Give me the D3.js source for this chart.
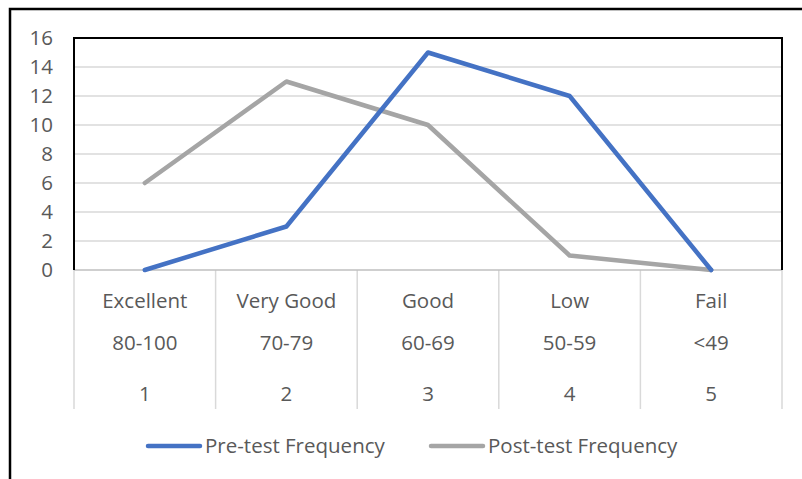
<!DOCTYPE html>
<html>
<head>
<meta charset="utf-8">
<script src="https://cdn.jsdelivr.net/npm/d3@7"></script>
<style>
  body { margin: 0; background: #fff; }
  text { font-family: "Open Sans", "Noto Sans", sans-serif; fill: #595959; }
</style>
</head>
<body>
<svg width="802" height="479"></svg>
<script>
const labels1 = ["Excellent", "Very Good", "Good", "Low", "Fail"];
const labels2 = ["80-100", "70-79", "60-69", "50-59", "<49"];
const labels3 = ["1", "2", "3", "4", "5"];
const preTest = [0, 3, 15, 12, 0];
const postTest = [6, 13, 10, 1, 0];
const yTicks = [0, 2, 4, 6, 8, 10, 12, 14, 16];

const svg = d3.select("svg");

const plot = { left: 74, right: 782, top: 38, bottom: 270 };
const fs = 20.5;

// outer frame
svg.append("rect")
  .attr("x", 10).attr("y", 9)
  .attr("width", 810).attr("height", 490)
  .attr("fill", "none").attr("stroke", "#000").attr("stroke-width", 2.5);

const x = d3.scaleBand()
  .domain(labels3)
  .range([plot.left, plot.right]);

const y = d3.scaleLinear()
  .domain([0, 16])
  .range([plot.bottom, plot.top]);

// gridlines
svg.append("g")
  .selectAll("line")
  .data(yTicks.filter(d => d > 0 && d < 16))
  .enter().append("line")
  .attr("x1", plot.left).attr("x2", plot.right)
  .attr("y1", d => y(d)).attr("y2", d => y(d))
  .attr("stroke", "#d9d9d9").attr("stroke-width", 1.5);

// y labels
svg.append("g")
  .selectAll("text")
  .data(yTicks)
  .enter().append("text")
  .attr("x", 53)
  .attr("y", d => y(d))
  .attr("dy", "0.36em")
  .attr("text-anchor", "end")
  .attr("font-size", fs)
  .text(d => d);

// category table lines
const bounds = x.domain().map(d => x(d)).concat([plot.right]);
svg.append("g")
  .selectAll("line")
  .data(bounds)
  .enter().append("line")
  .attr("x1", d => d).attr("x2", d => d)
  .attr("y1", plot.bottom).attr("y2", 409)
  .attr("stroke", "#d9d9d9").attr("stroke-width", 1.5);

// x axis line
svg.append("line")
  .attr("x1", plot.left).attr("x2", plot.right)
  .attr("y1", plot.bottom).attr("y2", plot.bottom)
  .attr("stroke", "#bfbfbf").attr("stroke-width", 1.5);

// plot frame (top, left, right)
svg.append("path")
  .attr("d", `M${plot.left},${plot.bottom} V${plot.top} H${plot.right} V${plot.bottom}`)
  .attr("fill", "none").attr("stroke", "#000").attr("stroke-width", 2);

// category labels
const rows = [[labels1, 301], [labels2, 343], [labels3, 394]];
rows.forEach(([labs, yy]) => {
  svg.append("g")
    .selectAll("text")
    .data(labs)
    .enter().append("text")
    .attr("x", (d, i) => x(labels3[i]) + x.bandwidth() / 2)
    .attr("y", yy)
    .attr("dy", "0.36em")
    .attr("text-anchor", "middle")
    .attr("font-size", fs)
    .text(d => d);
});

const line = d3.line()
  .x((d, i) => x(labels3[i]) + x.bandwidth() / 2)
  .y(d => y(d));

svg.append("path")
  .datum(postTest)
  .attr("d", line)
  .attr("fill", "none").attr("stroke", "#a5a5a5")
  .attr("stroke-width", 4.5).attr("stroke-linejoin", "round").attr("stroke-linecap", "round");

svg.append("path")
  .datum(preTest)
  .attr("d", line)
  .attr("fill", "none").attr("stroke", "#4472c4")
  .attr("stroke-width", 4.5).attr("stroke-linejoin", "round").attr("stroke-linecap", "round");

// legend
const legend = [
  { name: "Pre-test Frequency", color: "#4472c4", x: 148 },
  { name: "Post-test Frequency", color: "#a5a5a5", x: 431 }
];
legend.forEach(l => {
  svg.append("line")
    .attr("x1", l.x).attr("x2", l.x + 52)
    .attr("y1", 446).attr("y2", 446)
    .attr("stroke", l.color).attr("stroke-width", 4.5).attr("stroke-linecap", "round");
  svg.append("text")
    .attr("x", l.x + 57).attr("y", 446)
    .attr("dy", "0.36em")
    .attr("font-size", fs)
    .text(l.name);
});
</script>
</body>
</html>
